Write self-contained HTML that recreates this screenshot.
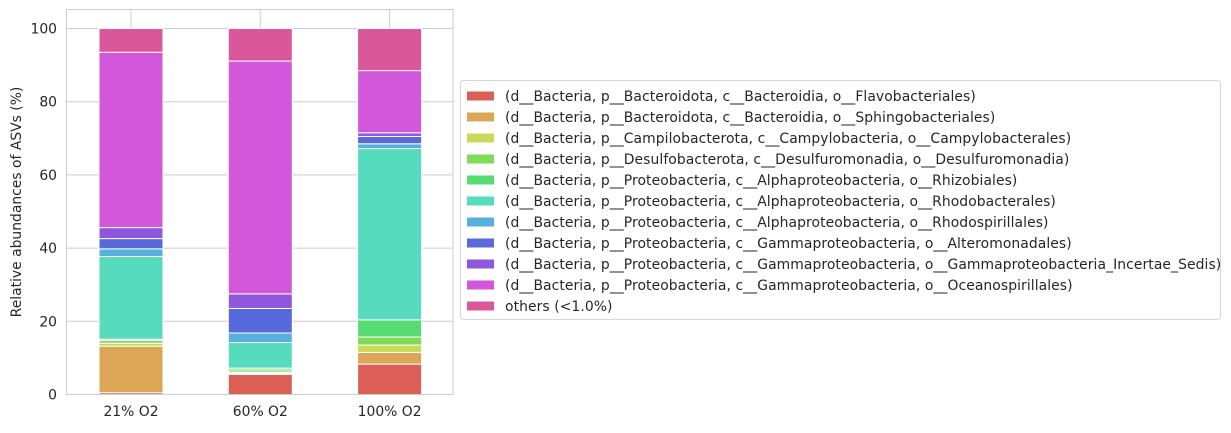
<!DOCTYPE html>
<html><head><meta charset="utf-8"><style>
body{margin:0;background:#fff;width:1231px;height:428px;overflow:hidden}
svg{font-family:"DejaVu Sans","Liberation Sans",sans-serif}
</style></head><body>
<svg id="chart" width="1231" height="428" viewBox="0 0 1231 428">
<g id="grid"></g>
<g id="bars"></g>
<rect x="66.5" y="9.5" width="386.5" height="385" fill="none" stroke="#cccccc" stroke-width="1"/>
<g id="axes"></g>
<text transform="translate(21,202) rotate(-90)" text-anchor="middle" font-size="13.9" fill="#262626">Relative abundances of ASVs (%)</text>
<g id="legend"></g>
</svg>
<script>
const categories = ["21% O2","60% O2","100% O2"];
const seriesNames = [
"(d__Bacteria, p__Bacteroidota, c__Bacteroidia, o__Flavobacteriales)",
"(d__Bacteria, p__Bacteroidota, c__Bacteroidia, o__Sphingobacteriales)",
"(d__Bacteria, p__Campilobacterota, c__Campylobacteria, o__Campylobacterales)",
"(d__Bacteria, p__Desulfobacterota, c__Desulfuromonadia, o__Desulfuromonadia)",
"(d__Bacteria, p__Proteobacteria, c__Alphaproteobacteria, o__Rhizobiales)",
"(d__Bacteria, p__Proteobacteria, c__Alphaproteobacteria, o__Rhodobacterales)",
"(d__Bacteria, p__Proteobacteria, c__Alphaproteobacteria, o__Rhodospirillales)",
"(d__Bacteria, p__Proteobacteria, c__Gammaproteobacteria, o__Alteromonadales)",
"(d__Bacteria, p__Proteobacteria, c__Gammaproteobacteria, o__Gammaproteobacteria_Incertae_Sedis)",
"(d__Bacteria, p__Proteobacteria, c__Gammaproteobacteria, o__Oceanospirillales)",
"others (<1.0%)"];
const colors = ['#db5f57','#dba757','#c8db57','#80db57','#57db73','#57dbbf','#57b0db','#5769db','#8f57db','#d357db','#db579b'];
const v21 = [0.5,12.7,0.8,0.8,0.3,22.6,2.1,2.8,3.0,47.9,6.5];
const v60 = [5.5,0.3,0.3,0.6,0.5,7.0,2.6,6.7,4.0,63.6,8.9];
const v100 = [8.3,3.2,2.0,2.2,4.7,46.8,1.3,2.0,1.0,17.0,11.5];
const yTicks = [0,20,40,60,80,100];
const values = [v21,v60,v100];

const NS="http://www.w3.org/2000/svg";
const y = v => 394.5 - v*3.66;
const xc = i => 131 + i*129.3;
const bw = 64;
function mk(tag, attrs, parent){const e=document.createElementNS(NS,tag);for(const k in attrs)e.setAttribute(k,attrs[k]);parent.appendChild(e);return e;}
const grid=document.getElementById('grid'), bars=document.getElementById('bars'), axes=document.getElementById('axes'), legend=document.getElementById('legend');
yTicks.forEach(t=>{
  const l=mk('line',{x1:66.5,x2:453,y1:y(t),y2:y(t),stroke:'#cccccc','stroke-width':1},grid);
  
  
  const tx=mk('text',{x:57,y:y(t)+5,'text-anchor':'end','font-size':13.9,fill:'#262626'},axes);
  tx.textContent=t;
  
  
});
categories.forEach((c,i)=>{
  const l=mk('line',{x1:xc(i),x2:xc(i),y1:9.5,y2:394.5,stroke:'#cccccc','stroke-width':1},grid);
  
  
  const tx=mk('text',{x:xc(i),y:416,'text-anchor':'middle','font-size':13.9,fill:'#262626'},axes);
  tx.textContent=c;
  
  
  let cum=0;
  values[i].forEach((v,s)=>{
    const r=mk('rect',{x:xc(i)-bw/2,y:y(cum+v),width:bw,height:v*3.66,fill:colors[s],stroke:'#ffffff','stroke-width':1},bars);
    
    
    cum+=v;
  });
});
mk('rect',{x:460.5,y:80.5,width:760,height:239,rx:3,fill:'#fff',stroke:'#d6d6d6','stroke-width':1},legend);
seriesNames.forEach((n,s)=>{
  const cy=96+s*21;
  const g=mk('g',{},legend);
  
  
  mk('rect',{x:467,y:cy-4.5,width:27,height:9,fill:colors[s]},g);
  const t=mk('text',{x:505,y:cy+5,'font-size':13.9,'letter-spacing':'0.08',fill:'#262626'},g);
  t.textContent=n;
});
</script>
</body></html>
